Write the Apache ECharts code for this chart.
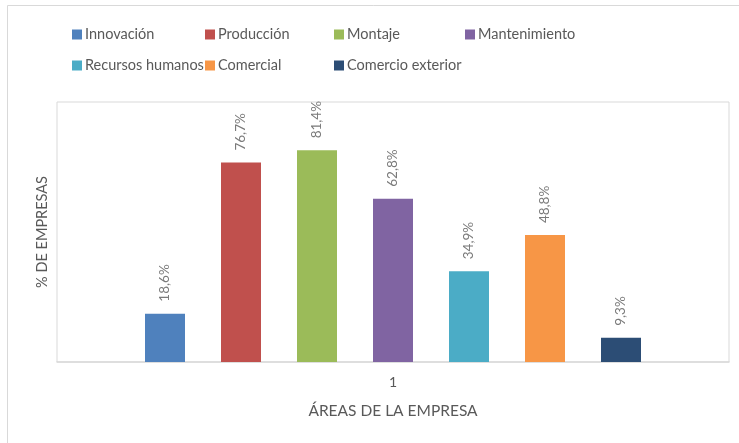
<!DOCTYPE html>
<html>
<head>
<meta charset="utf-8">
<script src="https://cdn.jsdelivr.net/npm/echarts@6/dist/echarts.min.js"></script>
<style>
  html, body { margin: 0; padding: 0; background: #fff; }
  #chart { width: 739px; height: 443px; }
</style>
</head>
<body>
<div id="chart"></div>
<script>
// Share of companies by area (single category "1")
const categories = ['1'];
const seriesNames = ['Innovación', 'Producción', 'Montaje', 'Mantenimiento',
                     'Recursos humanos', 'Comercial', 'Comercio exterior'];
const seriesValues = [18.6, 76.7, 81.4, 62.8, 34.9, 48.8, 9.3];
const seriesColors = ['#4F81BD', '#C0504D', '#9BBB59', '#8064A2',
                      '#4BACC6', '#F79646', '#2C4D75'];

const font = 'Lato, "Open Sans", sans-serif';
const textColor = '#595959';

// Legend items sit in fixed columns, two rows
const legendSlots = [
  [72, 27], [205, 27], [334, 27], [465, 27],
  [72, 58], [205, 58], [334, 58]
];

const legends = seriesNames.map((name, i) => ({
  data: [name],
  left: legendSlots[i][0],
  top: legendSlots[i][1],
  padding: 0,
  itemWidth: 10,
  itemHeight: 10,
  itemGap: 0,
  icon: 'rect',
  textStyle: { fontFamily: font, fontSize: 14.5, color: textColor, padding: [0, 0, 0, -2] }
}));

const series = seriesNames.map((name, i) => ({
  name: name,
  type: 'bar',
  barWidth: 40,
  barGap: '90%',
  itemStyle: { color: seriesColors[i] },
  label: {
    show: true,
    position: 'top',
    rotate: 90,
    align: 'left',
    verticalAlign: 'middle',
    distance: 12,
    fontFamily: font,
    fontSize: 13.5,
    color: '#7a7a7a',
    formatter: p => p.value.toFixed(1).replace('.', ',') + '%'
  },
  data: [seriesValues[i]]
}));

const chart = echarts.init(document.getElementById('chart'), null, { renderer: 'canvas' });
chart.setOption({
  animation: false,
  backgroundColor: '#ffffff',
  graphic: [{
    type: 'rect',
    shape: { x: 7.5, y: 5.5, width: 800, height: 500 },
    style: { fill: 'none', stroke: '#d9d9d9', lineWidth: 1 },
    silent: true
  }],
  legend: legends,
  grid: {
    left: 57, right: 10, top: 102, bottom: 81,
    show: true, borderColor: '#d9d9d9', borderWidth: 1
  },
  xAxis: {
    type: 'category',
    data: categories,
    axisLine: { lineStyle: { color: '#d9d9d9', width: 1.5 } },
    axisTick: { show: false },
    axisLabel: { fontFamily: font, fontSize: 14, color: textColor, margin: 13 },
    name: 'ÁREAS DE LA EMPRESA',
    nameLocation: 'middle',
    nameGap: 41,
    nameTextStyle: { fontFamily: font, fontSize: 15.5, color: textColor }
  },
  yAxis: {
    type: 'value',
    min: 0,
    max: 100,
    axisLine: { show: false },
    axisTick: { show: false },
    axisLabel: { show: false },
    splitLine: { show: false },
    name: '% DE EMPRESAS',
    nameLocation: 'middle',
    nameRotate: 90,
    nameGap: 7,
    nameTextStyle: { fontFamily: font, fontSize: 14.5, color: textColor }
  },
  series: series
});
</script>
</body>
</html>
